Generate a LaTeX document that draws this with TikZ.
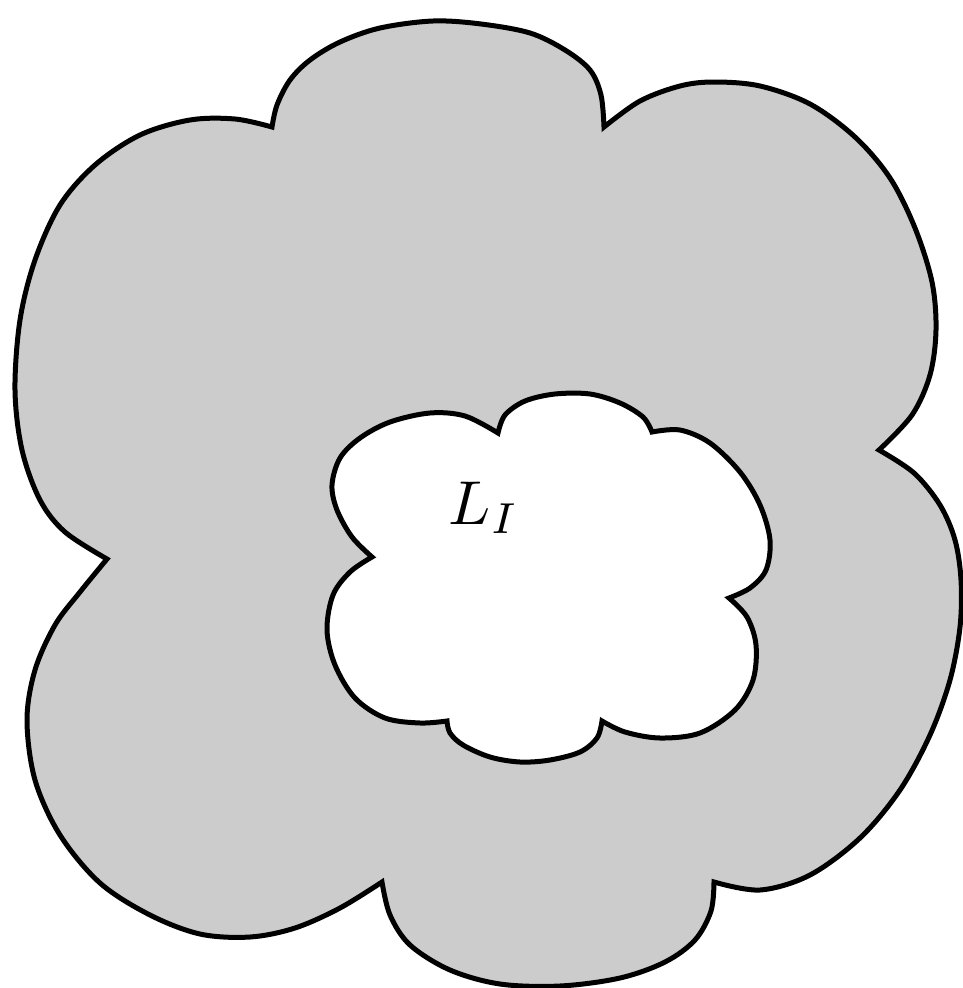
\documentclass[tikz,border=0pt]{standalone}
\begin{document}
\begin{tikzpicture}[x=1pt,y=-1pt,
  cloudline/.style={line width=5pt, line join=miter, miter limit=6},
  lobe/.style={smooth, tension=0.55}]
\useasboundingbox (0,0) rectangle (963,988);
% outer cloud
\filldraw[cloudline, fill={rgb,255:red,204;green,204;blue,204}]
  plot[lobe] coordinates {(272,127) (277,105) (290,80) (310,60) (340,42) (380,28) (433,21) (481,24) (530,33) (565,50) (590,70) (601,95) (604,127)}
  -- plot[lobe] coordinates {(604,127) (640,101) (680,86) (714,82) (760,86) (810,104) (855,137) (890,178) (915,228) (932,282) (936,330) (930,375) (912,415) (879,450)}
  -- plot[lobe] coordinates {(879,450) (914,473) (940,505) (955,540) (961,580) (960,627) (950,680) (930,735) (900,790) (860,838) (810,875) (760,890) (714,882)}
  -- plot[lobe] coordinates {(714,882) (711,911) (695,940) (665,962) (620,978) (560,986) (500,984) (450,970) (410,945) (390,915) (382,882)}
  -- plot[lobe] coordinates {(382,882) (340,908) (295,928) (250,937) (200,934) (150,915) (100,883) (60,835) (35,780) (27,720) (35,670) (55,625) (80,592) (107,559)}
  -- plot[lobe] coordinates {(107,559) (65,532) (40,500) (22,450) (15,390) (20,320) (35,260) (60,205) (95,165) (140,135) (190,120) (235,119) (272,127)}
  -- cycle;
% inner cloud
\filldraw[cloudline, fill=white]
  plot[lobe] coordinates {(372,557) (352,537) (337,510) (332,485) (340,458) (360,438) (390,422) (430,413) (465,416) (498,433)}
  -- plot[lobe] coordinates {(498,433) (505,415) (525,401) (555,394) (590,394) (620,403) (643,417) (652,432)}
  -- plot[lobe] coordinates {(652,432) (680,430) (710,443) (740,472) (760,505) (770,540) (766,570) (750,588) (729,598)}
  -- plot[lobe] coordinates {(729,598) (747,617) (756,645) (753,680) (735,710) (700,733) (660,738) (625,732) (602,721)}
  -- plot[lobe] coordinates {(602,721) (597,738) (580,752) (550,760) (520,762) (490,757) (463,745) (450,733) (447,721)}
  -- plot[lobe] coordinates {(447,721) (420,723) (385,718) (355,698) (335,665) (327,630) (333,595) (350,572) (372,557)}
  -- cycle;
\node[scale=6.2] (label) at (484,508) {$L_I$};
\end{tikzpicture}
\end{document}
